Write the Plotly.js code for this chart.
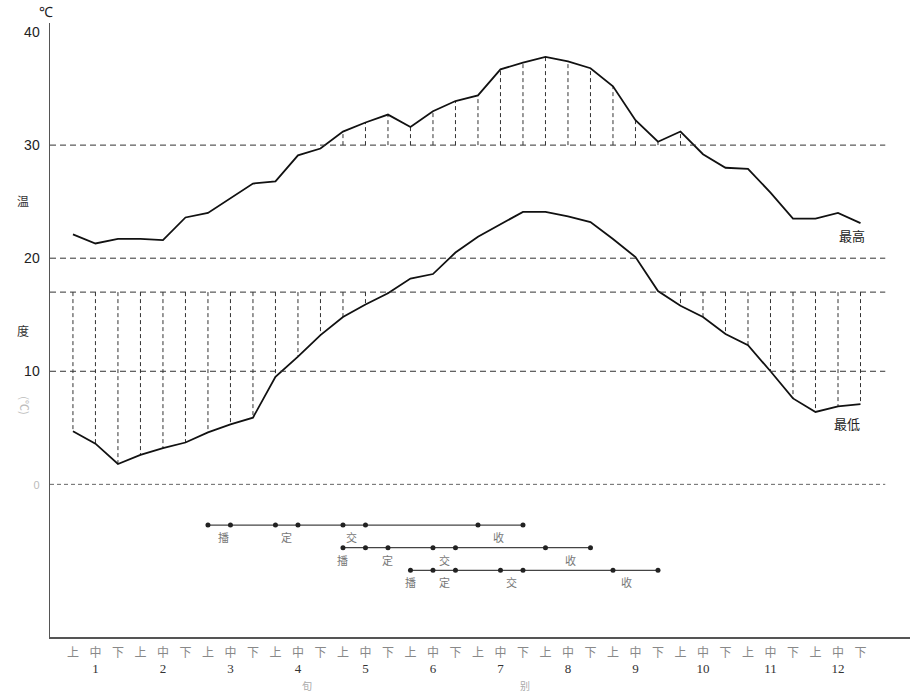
<!DOCTYPE html>
<html>
<head>
<meta charset="utf-8">
<script src="https://cdn.plot.ly/plotly-3.0.1.min.js"></script>
<style>html,body{margin:0;padding:0;background:#fff;}#chart{width:911px;height:694px;}</style>
</head>
<body>
<div id="chart"></div>
<script>
// ---- data ----
const dekadNames = ['上', '中', '下'];
const months = ['1','2','3','4','5','6','7','8','9','10','11','12'];
const maxTemp = [22.1, 21.3, 21.7, 21.7, 21.6, 23.6, 24.0, 25.3, 26.6, 26.8, 29.1, 29.7,
                 31.2, 32.0, 32.7, 31.6, 33.0, 33.9, 34.4, 36.7, 37.3, 37.8, 37.4, 36.8,
                 35.2, 32.2, 30.3, 31.2, 29.2, 28.0, 27.9, 25.8, 23.5, 23.5, 24.0, 23.1];
const minTemp = [4.7, 3.6, 1.8, 2.6, 3.2, 3.7, 4.6, 5.3, 5.9, 9.5, 11.3, 13.2,
                 14.8, 15.9, 16.9, 18.2, 18.6, 20.5, 21.9, 23.0, 24.1, 24.1, 23.7, 23.2,
                 21.7, 20.1, 17.1, 15.8, 14.8, 13.3, 12.3, 10.0, 7.6, 6.4, 6.9, 7.1];
const highLimit = 30;
const lowLimit = 17;
const refLines = [0, 10, 17, 20, 30];
const yTicks = [0, 10, 20, 30, 40];
const stageNames = ['播', '定', '交', '收'];
const row1Dots = [6, 7, 9, 10, 12, 13, 18, 20];
const row1Labels = [6.7, 9.5, 12.4, 18.9];
const row2Dots = [12, 13, 14, 16, 17, 21, 23];
const row2Labels = [12, 14, 16.5, 22.1];
const row3Dots = [15, 16, 17, 19, 20, 24, 26];
const row3Labels = [15, 16.5, 19.5, 24.6];
const seriesNames = ['最高', '最低'];

// ---- build ----
const idx = maxTemp.map((_, i) => i);
const tickText = idx.map(i => {
  const d = i % 3;
  if (d === 1) return dekadNames[d] + '<br><span style="color:#333;font-family:Liberation Serif;font-size:13px">' + months[Math.floor(i / 3)] + '</span>';
  return dekadNames[d];
});

const hx = [], hy = [];
idx.forEach(i => {
  if (maxTemp[i] > highLimit) { hx.push(i, i, null); hy.push(highLimit, maxTemp[i], null); }
  if (minTemp[i] < lowLimit) { hx.push(i, i, null); hy.push(lowLimit, minTemp[i], null); }
});

const traces = [];
traces.push({x: hx, y: hy, mode: 'lines', line: {color: '#333', width: 1, dash: '4px,3px'}, hoverinfo: 'skip', showlegend: false});
traces.push({x: idx, y: maxTemp, mode: 'lines', name: seriesNames[0], line: {color: '#111', width: 1.8}, showlegend: false});
traces.push({x: idx, y: minTemp, mode: 'lines', name: seriesNames[1], line: {color: '#111', width: 1.8}, showlegend: false});

const rows = [[row1Dots, row1Labels], [row2Dots, row2Labels], [row3Dots, row3Labels]];
const rowLevels = [-3.6, -5.6, -7.6];
const annotations = [];
rows.forEach((r, k) => {
  traces.push({x: r[0], y: r[0].map(() => rowLevels[k]), mode: 'lines+markers',
    line: {color: '#444', width: 1.2}, marker: {color: '#222', size: 5}, hoverinfo: 'skip', showlegend: false});
  r[1].forEach((p, j) => annotations.push({x: p, y: rowLevels[k] - 1.05, xref: 'x', yref: 'y', text: stageNames[j],
    showarrow: false, font: {family: 'Noto Sans CJK SC', size: 11, color: '#777'}}));
});

annotations.push({x: 34.6, y: 22.0, xref: 'x', yref: 'y', text: seriesNames[0], showarrow: false,
  font: {family: 'Noto Sans CJK SC', size: 13, color: '#222'}});
annotations.push({x: 34.4, y: 5.4, xref: 'x', yref: 'y', text: seriesNames[1], showarrow: false,
  font: {family: 'Noto Sans CJK SC', size: 13, color: '#222'}});

const cjk = {family: 'Noto Sans CJK SC', size: 12, color: '#333'};
annotations.push({x: -0.041, y: 0.728, xref: 'paper', yref: 'paper', text: '温', showarrow: false, font: cjk});
annotations.push({x: -0.041, y: 0.5, xref: 'paper', yref: 'paper', text: '度', showarrow: false, font: cjk});
annotations.push({x: -0.041, y: 0.378, xref: 'paper', yref: 'paper', text: '(℃)', textangle: 90, showarrow: false,
  font: {family: 'Noto Sans CJK SC', size: 11, color: '#bbb'}});
annotations.push({x: -0.015, y: 1.035, xref: 'paper', yref: 'paper', text: '℃', showarrow: false,
  font: {family: 'Liberation Sans', size: 14, color: '#222'}});
annotations.push({x: 0.291, y: -0.095, xref: 'paper', yref: 'paper', text: '旬', showarrow: false,
  font: {family: 'Noto Sans CJK SC', size: 10, color: '#aaa'}});
annotations.push({x: 0.552, y: -0.095, xref: 'paper', yref: 'paper', text: '别', showarrow: false,
  font: {family: 'Noto Sans CJK SC', size: 10, color: '#aaa'}});

const xMin = -1.02, xMax = 37.2, lineEnd = 36.1;
const shapes = refLines.map(v => ({type: 'line', xref: 'x', yref: 'y', x0: xMin, x1: lineEnd, y0: v, y1: v,
  line: {color: v === 0 ? '#666' : '#333', width: 1, dash: v === 0 ? '4px,3px' : '6px,4px'}}));

const layout = {
  width: 911, height: 694,
  margin: {l: 50, r: 1, t: 23, b: 57},
  paper_bgcolor: '#fff', plot_bgcolor: '#fff',
  showlegend: false,
  xaxis: {range: [xMin, xMax], showgrid: false, zeroline: false, showline: true, linecolor: '#555', linewidth: 1.5,
    tickmode: 'array', tickvals: idx, ticktext: tickText, ticks: '', ticklabelstandoff: 4,
    tickfont: {family: 'Noto Sans CJK SC', size: 12, color: '#888'}, fixedrange: true},
  yaxis: {range: [-13.5, 40.8], showgrid: false, zeroline: false, showline: true, linecolor: '#555', linewidth: 1.5,
    tickmode: 'array', tickvals: yTicks,
    ticktext: yTicks.map(v => v === 0 ? '<span style="color:#bbb;font-size:11px">0</span>' : String(v)),
    ticks: '', ticklabelstandoff: 6, tickfont: {family: 'Liberation Sans', size: 14, color: '#222'}, fixedrange: true},
  shapes: shapes,
  annotations: annotations
};

Plotly.newPlot('chart', traces, layout, {displayModeBar: false, staticPlot: true});
</script>
</body>
</html>
